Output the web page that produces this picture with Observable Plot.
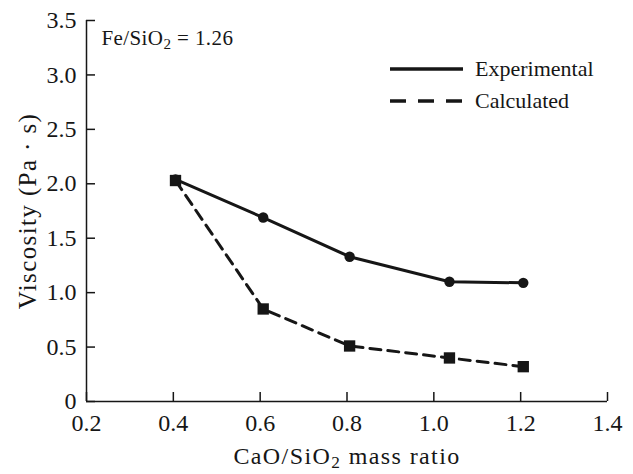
<!DOCTYPE html>
<html>
<head>
<meta charset="utf-8">
<script src="https://cdn.jsdelivr.net/npm/d3@7"></script>
<script src="https://cdn.jsdelivr.net/npm/@observablehq/plot@0.6"></script>
<style>
  body { margin: 0; background: #fff; }
  #chart { position: relative; width: 633px; height: 474px; }
  svg { font-family: "Liberation Serif", "Times New Roman", serif; }
</style>
</head>
<body>
<div id="chart"></div>
<script>
// ---- data ----
const ratioExp = [0.405, 0.607, 0.806, 1.036, 1.206];
const viscExp  = [2.04, 1.69, 1.33, 1.10, 1.09];
const ratioCalc = [0.405, 0.607, 0.806, 1.036, 1.206];
const viscCalc  = [2.03, 0.85, 0.51, 0.40, 0.32];
const seriesNames = ["Experimental", "Calculated"];
const xTicks = [0.2, 0.4, 0.6, 0.8, 1.0, 1.2, 1.4];
const yTicks = [0, 0.5, 1.0, 1.5, 2.0, 2.5, 3.0, 3.5];
const xLabel = "CaO/SiO2 mass ratio";
const yLabel = "Viscosity (Pa · s)";
const annotation = "Fe/SiO2 = 1.26";

const expData = ratioExp.map((x, i) => ({x, y: viscExp[i]}));
const calcData = ratioCalc.map((x, i) => ({x, y: viscCalc[i]}));

const ink = "#161616";

const chart = Plot.plot({
  width: 633,
  height: 474,
  marginLeft: 86,
  marginRight: 26,
  marginTop: 20,
  marginBottom: 73,
  style: {fontFamily: "Liberation Serif, Times New Roman, serif", color: ink, background: "#fff"},
  x: {domain: [0.2, 1.4]},
  y: {domain: [0, 3.5]},
  marks: [
    Plot.axisX({ticks: xTicks, tickSize: 0, tickPadding: 12, tickFormat: d => d.toFixed(1), fontSize: 24, label: null}),
    Plot.axisY({ticks: yTicks, tickSize: 0, tickPadding: 10, tickFormat: d => d === 0 ? "0" : d.toFixed(1), fontSize: 24, label: null}),
    // inward tick marks
    Plot.ruleY(yTicks, {y: d => d, x1: 0.2, x2: 0.2, insetRight: -9, stroke: ink, strokeWidth: 1.5}),
    Plot.ruleX(xTicks, {x: d => d, y1: 0, y2: 0, insetTop: -9, stroke: ink, strokeWidth: 1.5}),
    Plot.ruleX([0.2], {stroke: ink, strokeWidth: 1.5}),
    Plot.ruleY([0], {stroke: ink, strokeWidth: 1.5}),
    Plot.line(calcData, {x: "x", y: "y", stroke: ink, strokeWidth: 3, strokeDasharray: "11,7"}),
    Plot.line(expData, {x: "x", y: "y", stroke: ink, strokeWidth: 3}),
    Plot.dot(calcData, {x: "x", y: "y", symbol: "square", r: 6.4, fill: ink, stroke: "none"}),
    Plot.dot(expData, {x: "x", y: "y", r: 5.2, fill: ink, stroke: "none"}),
    Plot.text([annotation], {frameAnchor: "top-left", dx: 15, dy: 10, textAnchor: "start", lineAnchor: "top", fontSize: 21, fill: ink}),
    Plot.text([xLabel], {frameAnchor: "bottom", dy: 62, textAnchor: "middle", fontSize: 24, fill: ink}),
    Plot.text([yLabel], {frameAnchor: "left", textAnchor: "middle", rotate: -90, dx: -59, fontSize: 25, fill: ink})
  ]
});

document.getElementById("chart").appendChild(chart);

// ---- legend ----
const svg = d3.select(chart);
const leg = svg.append("g").attr("class", "legend").attr("text-anchor", "start");
const legY = [69, 101];
const dashes = [null, "16,12"];
seriesNames.forEach((name, i) => {
  leg.append("line")
    .attr("x1", 390).attr("x2", 463)
    .attr("y1", legY[i]).attr("y2", legY[i])
    .attr("stroke", ink).attr("stroke-width", 3.5)
    .attr("stroke-dasharray", dashes[i]);
  leg.append("text")
    .attr("x", 475).attr("y", legY[i] + 7)
    .attr("text-anchor", "start")
    .attr("font-size", 22)
    .attr("fill", ink)
    .text(name);
});

// ---- letter spacing for the wide axis titles ----
svg.selectAll("text").each(function() {
  const s = this.textContent;
  if (s === yLabel || s === xLabel) this.style.letterSpacing = "1.4px";
  if (s === annotation) this.style.letterSpacing = "0.4px";
});

// ---- subscripts for "SiO2" ----
svg.selectAll("text").each(function() {
  const el = this;
  const targets = el.querySelector("tspan") ? Array.from(el.querySelectorAll("tspan")) : [el];
  targets.forEach(t => {
    const s = t.textContent;
    const idx = s.indexOf("SiO2");
    if (idx < 0) return;
    const before = s.slice(0, idx + 3);
    const after = s.slice(idx + 4);
    while (t.firstChild) t.removeChild(t.firstChild);
    const ns = "http://www.w3.org/2000/svg";
    t.appendChild(document.createTextNode(before));
    const sub = document.createElementNS(ns, "tspan");
    sub.setAttribute("dy", "0.25em");
    sub.setAttribute("font-size", "0.72em");
    sub.textContent = "2";
    t.appendChild(sub);
    const rest = document.createElementNS(ns, "tspan");
    rest.setAttribute("dy", "-0.18em");
    rest.textContent = after;
    t.appendChild(rest);
  });
});
</script>
</body>
</html>
